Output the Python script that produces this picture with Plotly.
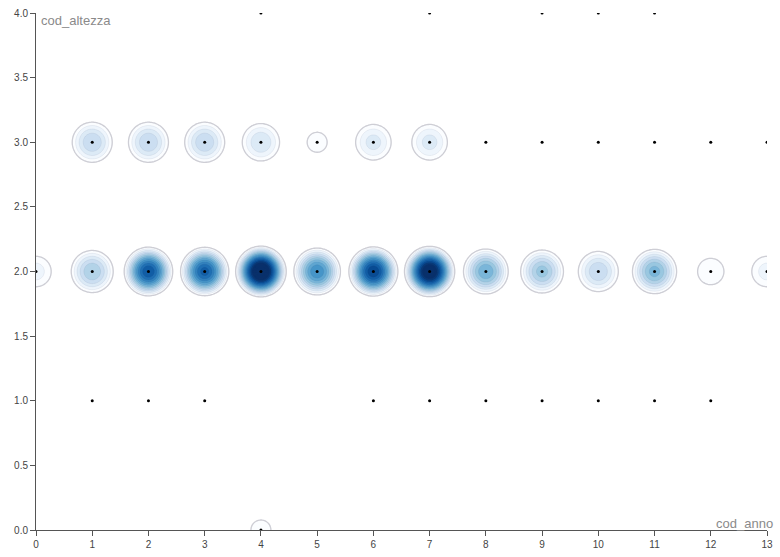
import numpy as np
import plotly.graph_objects as go

# Observations: year code, height code and number of records at each pair
cod_anno = [4, 7, 9, 10, 11,
            1, 2, 3, 4, 5, 6, 7, 8, 9, 10, 11, 12, 13,
            0, 1, 2, 3, 4, 5, 6, 7, 8, 9, 10, 11, 12, 13,
            1, 2, 3, 6, 7, 8, 9, 10, 11, 12,
            4]
cod_altezza = [4, 4, 4, 4, 4,
               3, 3, 3, 3, 3, 3, 3, 3, 3, 3, 3, 3, 3,
               2, 2, 2, 2, 2, 2, 2, 2, 2, 2, 2, 2, 2, 2,
               1, 1, 1, 1, 1, 1, 1, 1, 1, 1,
               0]
conteggio = [1, 1, 1, 1, 1,
             12, 12, 12, 10, 5, 9, 9, 1, 1, 1, 1, 1, 1,
             7, 14, 28, 27, 38, 22, 30, 36, 18, 15, 12, 17, 6, 7,
             1, 1, 1, 1, 1, 1, 1, 1, 1, 1,
             5]

x_ticks = list(range(0, 14))
y_ticks = [0.0, 0.5, 1.0, 1.5, 2.0, 2.5, 3.0, 3.5, 4.0]

# Plot geometry (pixels per data unit) so the kernel stays round on screen
W, H = 780, 557
M = dict(l=36, r=7, t=13, b=25)
px_x = (W - M["l"] - M["r"]) / 13.0
px_y = (H - M["t"] - M["b"]) / 4.0
kernel_radius_px = 31.0
first_level, level_step, top_level = 4, 2, 38
color_top = 32

# Density on a fine grid: compact biweight kernel weighted by record count
gx = np.linspace(-0.8, 13.8, 600)
gy = np.linspace(-0.45, 4.45, 440)
GX, GY = np.meshgrid(gx, gy)
dens = np.zeros_like(GX)
for xa, ya, c in zip(cod_anno, cod_altezza, conteggio):
    u2 = (((GX - xa) * px_x) ** 2 + ((GY - ya) * px_y) ** 2) / kernel_radius_px ** 2
    dens += c * np.clip(1.0 - u2, 0.0, None) ** 2

blues = [
    [0.0, "#ffffff"], [0.07, "#f7fbff"], [0.17, "#deebf7"], [0.27, "#c6dbef"],
    [0.38, "#9ecae1"], [0.50, "#6baed6"], [0.62, "#4292c6"], [0.74, "#2171b5"],
    [0.87, "#08519c"], [1.0, "#08306b"],
]

fig = go.Figure()
fig.add_trace(go.Contour(
    x=gx, y=gy, z=dens,
    colorscale=blues, zmin=0, zmax=color_top,
    contours=dict(start=first_level, end=top_level, size=level_step, coloring="fill"),
    line=dict(color="rgba(60,70,110,0.13)", width=0.6, smoothing=1),
    showscale=False, hoverinfo="skip",
))
# Outer boundary of each density blob
fig.add_trace(go.Contour(
    x=gx, y=gy, z=dens,
    contours=dict(start=first_level, end=first_level, size=1, coloring="none"),
    line=dict(color="rgb(206,206,213)", width=1.3, smoothing=1),
    showscale=False, hoverinfo="skip",
))
fig.add_trace(go.Scatter(
    x=cod_anno, y=cod_altezza, mode="markers",
    marker=dict(color="black", size=3, line=dict(width=0)),
    customdata=conteggio,
    hovertemplate="cod_anno=%{x}<br>cod_altezza=%{y}<br>n=%{customdata}<extra></extra>",
))

axis_common = dict(
    showgrid=False, zeroline=False, showline=True, linecolor="#555", linewidth=1,
    ticks="outside", ticklen=5, tickcolor="#555", tickwidth=1,
    tickfont=dict(family="Liberation Sans, Arial", size=10, color="#444"),
)
fig.update_xaxes(range=[0, 13], tickvals=x_ticks, ticktext=[str(v) for v in x_ticks],
                 **axis_common)
fig.update_yaxes(range=[0, 4], tickvals=y_ticks, ticktext=[f"{v:.1f}" for v in y_ticks],
                 **axis_common)

fig.add_annotation(text="cod_altezza", xref="paper", yref="paper", x=0.007, y=1.0,
                   xanchor="left", yanchor="top", xshift=-2, yshift=2, showarrow=False,
                   font=dict(family="Liberation Sans, Arial", size=13, color="#8a8a8a"))
fig.add_annotation(text="cod_anno", xref="paper", yref="paper", x=1.0, y=0.0,
                   xanchor="right", yanchor="bottom", xshift=8, yshift=-3, showarrow=False,
                   font=dict(family="Liberation Sans, Arial", size=13, color="#8a8a8a"))

fig.update_layout(
    width=W, height=H, margin=M,
    plot_bgcolor="white", paper_bgcolor="white",
    showlegend=False,
)
fig.write_html("out.html")
